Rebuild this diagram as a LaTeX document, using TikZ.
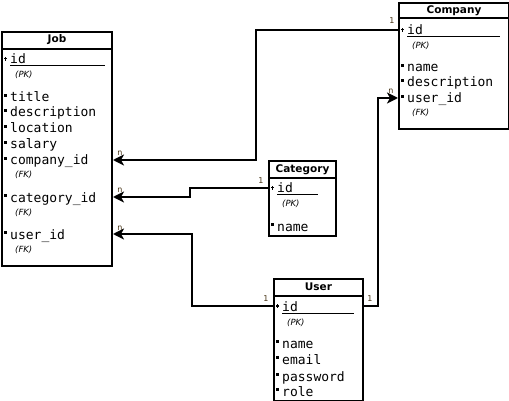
\documentclass[tikz,border=0pt]{standalone}
\usepackage{fontspec}
\setmainfont{DejaVu Sans}
\setmonofont{DejaVu Sans Mono}
\usetikzlibrary{arrows.meta}
\definecolor{cardcol}{RGB}{70,50,20}

\tikzset{
  tablebox/.style={draw, line width=2pt, inner sep=0pt, anchor=north west},
  tabletitle/.style={font=\bfseries\fontsize{10.5}{11}\selectfont, inner sep=0pt,
    text height=8pt, text depth=2pt},
  field/.style={font=\ttfamily\fontsize{13}{14}\selectfont, anchor=base west,
    inner sep=0pt, text height=10pt, text depth=0pt},
  keytag/.style={font=\itshape\fontsize{8.5}{9}\selectfont, anchor=base west, inner sep=0pt},
  card/.style={font=\fontsize{8}{9}\selectfont, text=cardcol, inner sep=0pt},
  link/.style={line width=2pt},
  many/.style={-{Stealth[length=11pt,width=11pt,inset=3pt]}},
}

\begin{document}
\begin{tikzpicture}[x=1pt,y=-1pt]
  \useasboundingbox (0,0) rectangle (509,401);

  % tables
  \node[tablebox, minimum width=110pt, minimum height=234pt] (job) at (1,31) {};
  \node[tablebox, minimum width=110pt, minimum height=126pt] (company) at (398,2) {};
  \node[tablebox, minimum width=67pt, minimum height=75pt] (category) at (268,160) {};
  \node[tablebox, minimum width=89pt, minimum height=122pt] (user) at (273,278) {};

  \foreach \tab/\name/\h in {job/Job/18, company/Company/16, category/Category/18, user/User/18} {
    \draw[line width=2pt] ([yshift=-\h pt]\tab.north west) -- ([yshift=-\h pt]\tab.north east);
    \node[tabletitle] (\tab-title) at ([yshift=-9pt]\tab.north) {\name};
  }

  % fields
  \foreach \f/\t/\y in {id/id/64, title/title/102, description/description/117,
      location/location/133, salary/salary/149, companyid/company\_id/165,
      categoryid/category\_id/202, userid/user\_id/239}
    \node[field] (job-\f) at (10,\y) {\t};
  \foreach \f/\t/\y in {id/id/35, name/name/72, description/description/87, userid/user\_id/103}
    \node[field] (company-\f) at (407,\y) {\t};
  \foreach \f/\t/\y in {id/id/193, name/name/231}
    \node[field] (category-\f) at (277,\y) {\t};
  \foreach \f/\t/\y in {id/id/311, name/name/348, email/email/364, password/password/381, role/role/396}
    \node[field] (user-\f) at (282,\y) {\t};

  % bullets
  \foreach \b in {job-title, job-description, job-location, job-salary, job-companyid,
      job-categoryid, job-userid, company-name, company-description, company-userid,
      category-name, user-name, user-email, user-password, user-role}
    \fill ([xshift=-6pt,yshift=-2pt]\b.north west) rectangle ++(3.2pt,-3.2pt);

  % primary keys
  \foreach \tab/\len in {job/95, company/93, category/41, user/72} {
    \fill ([xshift=-5pt,yshift=-3pt]\tab-id.north west) rectangle ++(1.3pt,-4.5pt);
    \fill ([xshift=-6.2pt,yshift=-4.4pt]\tab-id.north west) rectangle ++(3.6pt,-1.3pt);
    \draw[line width=1pt] ([yshift=-2pt]\tab-id.base west) -- ++(\len pt,0);
    \node[keytag] (\tab-pk) at ([xshift=5pt,yshift=-14pt]\tab-id.base west) {(PK)};
  }

  % foreign keys
  \foreach \k in {job-companyid, job-categoryid, job-userid, company-userid}
    \node[keytag] (\k-fk) at ([xshift=5pt,yshift=-13pt]\k.base west) {(FK)};

  % relations
  \coordinate (bend-company) at (256,0);
  \coordinate (bend-category) at (190,0);
  \coordinate (bend-userjob) at (192,0);
  \coordinate (bend-usercompany) at (378,0);

  \draw[link, many] (company.west |- company-id) -| (bend-company |- job-companyid)
    -- (job.east |- job-companyid);
  \draw[link, many] (category.west |- category-id) -| (bend-category |- job-categoryid)
    -- (job.east |- job-categoryid);
  \draw[link, many] (user.west |- user-id) -| (bend-userjob |- job-userid)
    -- (job.east |- job-userid);
  \draw[link, many] (user.east |- user-id) -| (bend-usercompany |- company-userid)
    -- (company.west |- company-userid);

  % cardinalities
  \node[card] (card-c1) at ([xshift=-6pt,yshift=9pt]company.west |- company-id) {1};
  \node[card] (card-cn) at ([xshift=7pt,yshift=7pt]job.east |- job-companyid) {n};
  \node[card] (card-k1) at ([xshift=-7pt,yshift=7pt]category.west |- category-id) {1};
  \node[card] (card-kn) at ([xshift=7pt,yshift=7pt]job.east |- job-categoryid) {n};
  \node[card] (card-u1) at ([xshift=-7pt,yshift=7pt]user.west |- user-id) {1};
  \node[card] (card-un) at ([xshift=7pt,yshift=6pt]job.east |- job-userid) {n};
  \node[card] (card-v1) at ([xshift=6pt,yshift=7pt]user.east |- user-id) {1};
  \node[card] (card-vn) at ([xshift=-7pt,yshift=7pt]company.west |- company-userid) {n};
\end{tikzpicture}
\end{document}
